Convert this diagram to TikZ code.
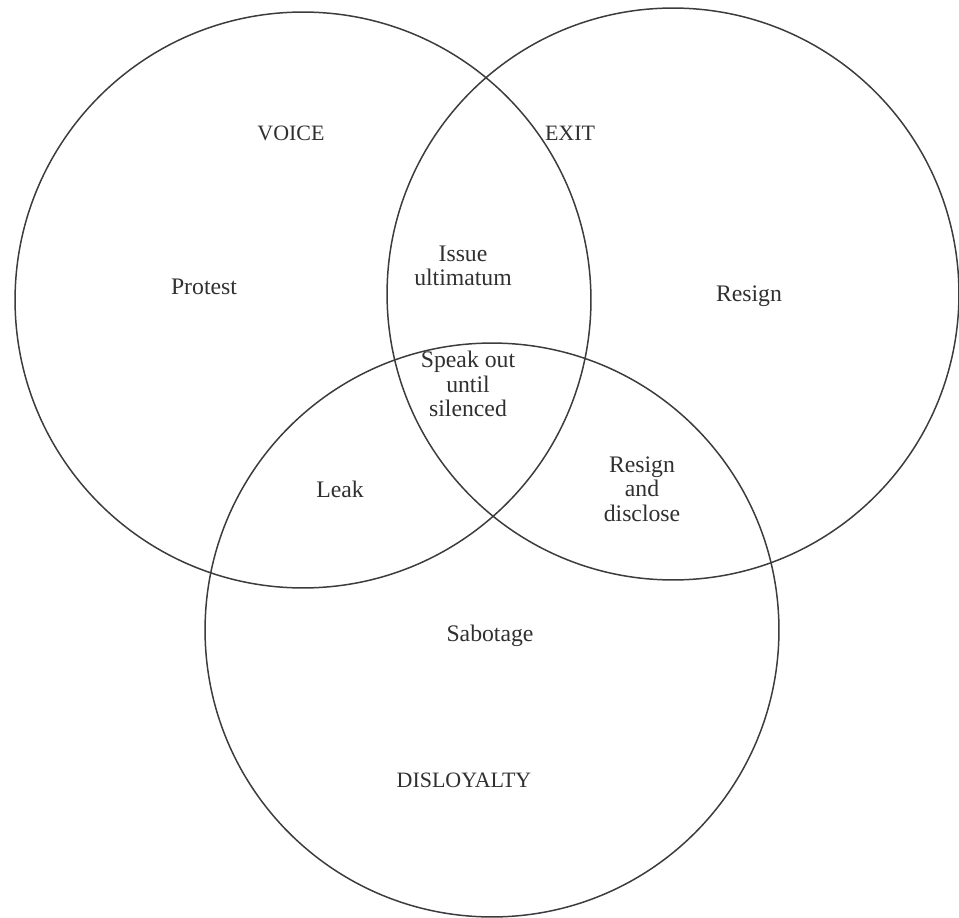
\documentclass[tikz,border=0pt]{standalone}
\usepackage{fontspec}
\setmainfont{Liberation Serif}
\usepackage{tikz}
\usetikzlibrary{positioning, calc}
\definecolor{venngray}{RGB}{60, 60, 60}
\tikzset{
  ring/.style={draw=venngray, line width=0.85pt},
  lbl/.style={align=center, text=venngray!80!black, inner sep=0pt,
              font=\fontsize{13.5}{14}\selectfont},
  title/.style={lbl, font=\fontsize{12.5}{13}\selectfont}
}

\begin{document}
\begin{tikzpicture}[x=0.02cm, y=-0.02cm]
        \useasboundingbox (0,0) rectangle (959,918);

        \coordinate (voice) at (303, 300);
        \coordinate (exit) at (673, 294);
        \coordinate (disloyal) at (492, 630);

        % i tre cerchi
        \draw[ring] (voice) circle[radius=5.76cm];
        \draw[ring] (exit) circle[radius=5.72cm];
        \draw[ring] (disloyal) circle[radius=5.74cm];

        % titoli
        \node[title] (tvoice) at (291, 133) {VOICE};
        \node[title] (texit) at (570, 133) {EXIT};
        \node[title] (tdis) at (464, 780) {DISLOYALTY};

        % regioni
        \node[lbl] (protest) at (204, 287) {Protest};
        \node[lbl] (ultimatum) at (463, 266) {Issue\\ultimatum};
        \node[lbl] (resign) at (749, 296) {Resign};
        \node[lbl] (speak) at (468, 384) {Speak out\\until\\silenced};
        \node[lbl] (leak) at (340, 489) {Leak};
        \node[lbl] (disclose) at (642, 489) {Resign\\and\\disclose};
        \node[lbl] (sabotage) at (490, 636) {Sabotage};
    \end{tikzpicture}
\end{document}
